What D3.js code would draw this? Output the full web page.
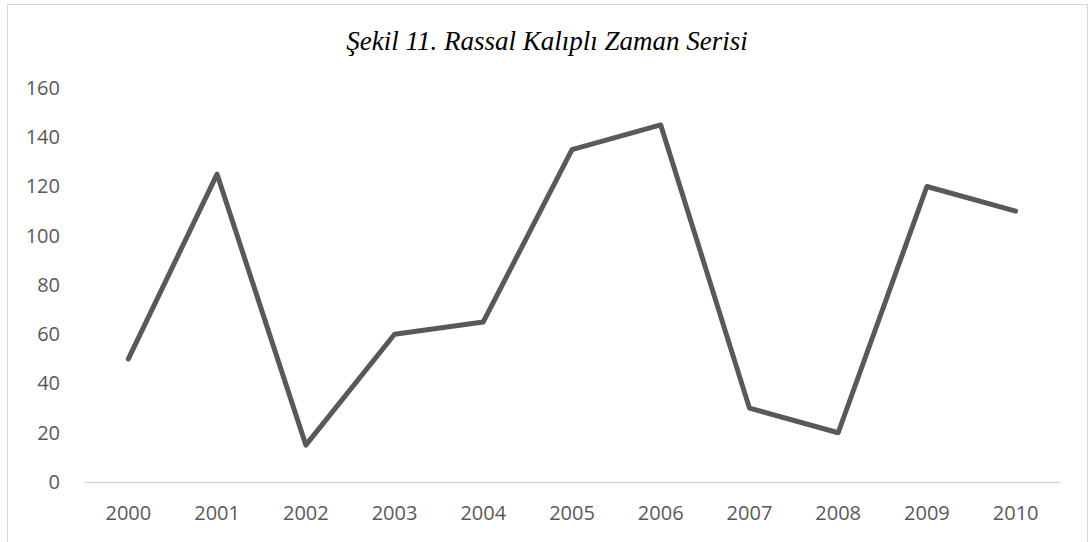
<!DOCTYPE html>
<html>
<head>
<meta charset="utf-8">
<script src="https://cdn.jsdelivr.net/npm/d3@7"></script>
<style>
    body { margin: 0; background: #fff; }
    svg { display: block; }
</style>
</head>
<body>
<div class="chart-container"></div>
<script>
// 資料
const years = ["2000", "2001", "2002", "2003", "2004", "2005", "2006", "2007", "2008", "2009", "2010"];
const values = [50, 125, 15, 60, 65, 135, 145, 30, 20, 120, 110];
const yTicks = [0, 20, 40, 60, 80, 100, 120, 140, 160];
const titleText = "Şekil 11. Rassal Kalıplı Zaman Serisi";

const width = 1092;
const height = 542;

const svg = d3
    .select(".chart-container")
    .append("svg")
    .attr("width", width)
    .attr("height", height);

// 外框 (底部延伸出畫面)
svg.append("rect")
    .attr("x", 7.5)
    .attr("y", 4.5)
    .attr("width", 1080)
    .attr("height", 560)
    .attr("fill", "#fff")
    .attr("stroke", "#d9d9d9")
    .attr("stroke-width", 1);

// 標題
svg.append("text")
    .attr("x", 547)
    .attr("y", 50)
    .attr("text-anchor", "middle")
    .style("font-family", "'Liberation Serif', 'Times New Roman', serif")
    .style("font-style", "italic")
    .style("font-size", "27px")
    .style("fill", "#000")
    .text(titleText);

// X scale
const xScale = d3
    .scaleBand()
    .domain(years)
    .range([84, 1060]);

// Y scale
const yScale = d3
    .scaleLinear()
    .domain([0, 160])
    .range([482, 88]);

// x 軸
const xAxisGroup = svg
    .append("g")
    .attr("transform", `translate(0,${yScale(0)})`)
    .call(d3.axisBottom(xScale).tickSize(0).tickPadding(24));

xAxisGroup.select(".domain").attr("stroke", "#d9d9d9").attr("stroke-width", 1.5);
xAxisGroup.selectAll("text")
    .style("font-family", "'Open Sans', sans-serif")
    .style("font-size", "20px")
    .style("fill", "#595959");

// y 軸
const yAxisGroup = svg
    .append("g")
    .attr("transform", "translate(60,0)")
    .call(d3.axisLeft(yScale).tickValues(yTicks).tickSize(0).tickPadding(0));

yAxisGroup.select(".domain").remove();
yAxisGroup.selectAll("text")
    .style("font-family", "'Open Sans', sans-serif")
    .style("font-size", "20px")
    .style("fill", "#595959");

// 折線
const line = d3
    .line()
    .x((d, i) => xScale(years[i]) + xScale.bandwidth() / 2)
    .y((d) => yScale(d));

svg.append("path")
    .datum(values)
    .attr("d", line)
    .attr("fill", "none")
    .attr("stroke", "#595959")
    .attr("stroke-width", 5)
    .attr("stroke-linejoin", "round")
    .attr("stroke-linecap", "round");
</script>
</body>
</html>
